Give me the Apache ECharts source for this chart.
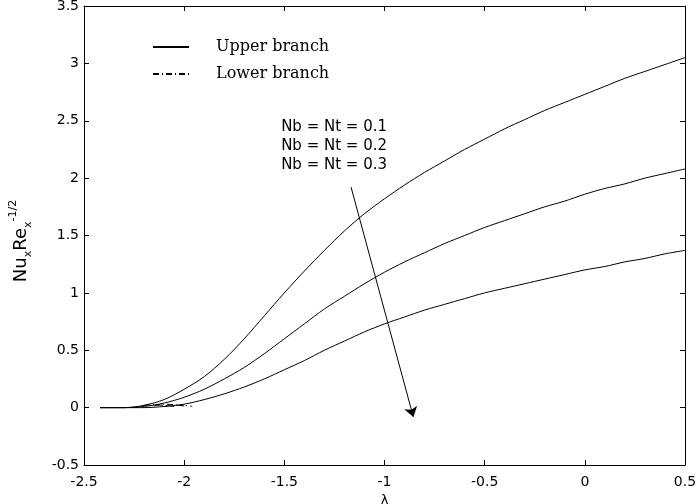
<!DOCTYPE html>
<html>
<head>
<meta charset="utf-8">
<script src="https://cdn.jsdelivr.net/npm/echarts@6/dist/echarts.min.js"></script>
<style>
html,body{margin:0;padding:0;background:#fff;}
#c{width:699px;height:504px;}
</style>
</head>
<body>
<div id="c"></div>
<script>
// ---- data ----
var lambdaX = [-2.42,-2.3,-2.2,-2.1,-2.0,-1.9,-1.8,-1.7,-1.6,-1.5,-1.4,-1.3,-1.2,-1.1,-1.0,-0.9,-0.8,-0.7,-0.6,-0.5,-0.4,-0.3,-0.2,-0.1,0,0.1,0.2,0.3,0.4,0.5];
var upper01 = [0,0,0.02,0.07,0.16,0.27,0.42,0.6,0.8,1.0,1.19,1.37,1.54,1.69,1.82,1.94,2.05,2.15,2.25,2.34,2.43,2.51,2.59,2.66,2.73,2.8,2.87,2.93,2.99,3.05];
var upper02 = [0,0,0.01,0.04,0.09,0.16,0.25,0.35,0.47,0.6,0.73,0.86,0.97,1.08,1.18,1.27,1.35,1.43,1.5,1.57,1.63,1.69,1.75,1.8,1.86,1.91,1.95,2.0,2.04,2.08];
var upper03 = [0,0,0,0.01,0.03,0.07,0.12,0.18,0.25,0.33,0.41,0.5,0.58,0.66,0.73,0.79,0.85,0.9,0.95,1.0,1.04,1.08,1.12,1.16,1.2,1.23,1.27,1.3,1.34,1.37];
var lower01X = [-2.2,-2.15,-2.1,-2.05];
var lower01 = [0.02,0.025,0.02,0.01];
var lower02X = [-2.15,-2.1,-2.05,-2.0];
var lower02 = [0.015,0.03,0.025,0.015];
var lower03X = [-2.1,-2.05,-2.0,-1.96];
var lower03 = [0.01,0.02,0.02,0.01];
var annoText = ['Nb = Nt = 0.1','Nb = Nt = 0.2','Nb = Nt = 0.3'];
var annoPos = [[-1.516,2.443],[-1.516,2.277],[-1.516,2.111]];
var arrowStart = [-1.167,1.922];
var arrowEnd = [-0.856,-0.082];
var xTicks = {min:-2.5,max:0.5,interval:0.5};
var yTicks = {min:-0.5,max:3.5,interval:0.5};

function zip(xs, ys){ return xs.map(function(x,i){return [x, ys[i]];}); }

var chart = echarts.init(document.getElementById('c'));
var sans = 'DejaVu Sans';
var lineSolid = {color:'#000', width:1, type:'solid'};
var lineDashDot = {color:'#000', width:1, type:[6,3,1,3]};

function upperSeries(d){
  return {type:'line', name:'Upper branch', data:d, showSymbol:false, symbol:'none', smooth:0.3,
    lineStyle:lineSolid, itemStyle:{color:'#000'}, silent:true, z:3};
}
function lowerSeries(d){
  return {type:'line', name:'Lower branch', data:d, showSymbol:false, symbol:'none', smooth:0.3,
    lineStyle:lineDashDot, itemStyle:{color:'#000'}, silent:true, z:3};
}

var axisCommon = {
  axisLine:{show:true, onZero:false, lineStyle:{color:'#000', width:1}},
  axisTick:{show:true, inside:true, length:5, lineStyle:{color:'#000'}},
  splitLine:{show:false}
};

chart.setOption({
  animation:false,
  backgroundColor:'#fff',
  grid:{left:84, right:14, top:6, bottom:39, show:false, containLabel:false, outerBoundsMode:'none'},
  legend:{
    left:147, top:34, orient:'vertical', itemWidth:36, itemHeight:14, itemGap:11,
    data:['Upper branch','Lower branch'],
    itemStyle:{opacity:0},
    textStyle:{fontFamily:'DejaVu Serif', fontSize:16, color:'#000', padding:[0,0,0,22]},
    selectedMode:false
  },
  xAxis:[
    Object.assign({type:'value', min:xTicks.min, max:xTicks.max, interval:xTicks.interval, position:'bottom',
      name:'λ', nameLocation:'middle', nameGap:27,
      nameTextStyle:{fontFamily:sans, fontSize:13, color:'#000'},
      axisLabel:{color:'#000', fontFamily:sans, fontSize:14, margin:10}}, axisCommon),
    Object.assign({type:'value', min:xTicks.min, max:xTicks.max, interval:xTicks.interval, position:'top',
      axisLabel:{show:false}}, axisCommon)
  ],
  yAxis:[
    Object.assign({type:'value', min:yTicks.min, max:yTicks.max, interval:yTicks.interval, position:'left',
      name:'{n|Nu}{s|x}{n|Re}{s|x}{p|-1/2}', nameLocation:'middle', nameGap:50,
      nameTextStyle:{fontFamily:sans, color:'#000', padding:[0,11,0,0],
        rich:{
          n:{fontFamily:sans, fontSize:18, color:'#000', lineHeight:26, verticalAlign:'middle'},
          s:{fontFamily:sans, fontSize:11, color:'#000', lineHeight:26, verticalAlign:'bottom'},
          p:{fontFamily:sans, fontSize:11, color:'#000', lineHeight:26, verticalAlign:'top'}
        }},
      axisLabel:{color:'#000', fontFamily:sans, fontSize:14, margin:5}}, axisCommon),
    Object.assign({type:'value', min:yTicks.min, max:yTicks.max, interval:yTicks.interval, position:'right',
      axisLabel:{show:false}}, axisCommon)
  ],
  series:[
    upperSeries(zip(lambdaX, upper01)),
    upperSeries(zip(lambdaX, upper02)),
    upperSeries(zip(lambdaX, upper03)),
    lowerSeries(zip(lower01X, lower01)),
    lowerSeries(zip(lower02X, lower02)),
    lowerSeries(zip(lower03X, lower03)),
    {type:'scatter', name:'anno', data:annoPos.map(function(p,i){return {value:p, name:annoText[i]};}),
      symbolSize:0, silent:true,
      label:{show:true, position:'right', distance:0, formatter:'{b}', color:'#000', opacity:1, fontFamily:sans, fontSize:15}},
    {type:'lines', coordinateSystem:'cartesian2d', silent:true,
      symbol:['none','arrow'], symbolSize:10,
      lineStyle:{color:'#000', width:1, curveness:0, opacity:1},
      data:[{coords:[arrowStart, arrowEnd]}]}
  ]
});
</script>
</body>
</html>
